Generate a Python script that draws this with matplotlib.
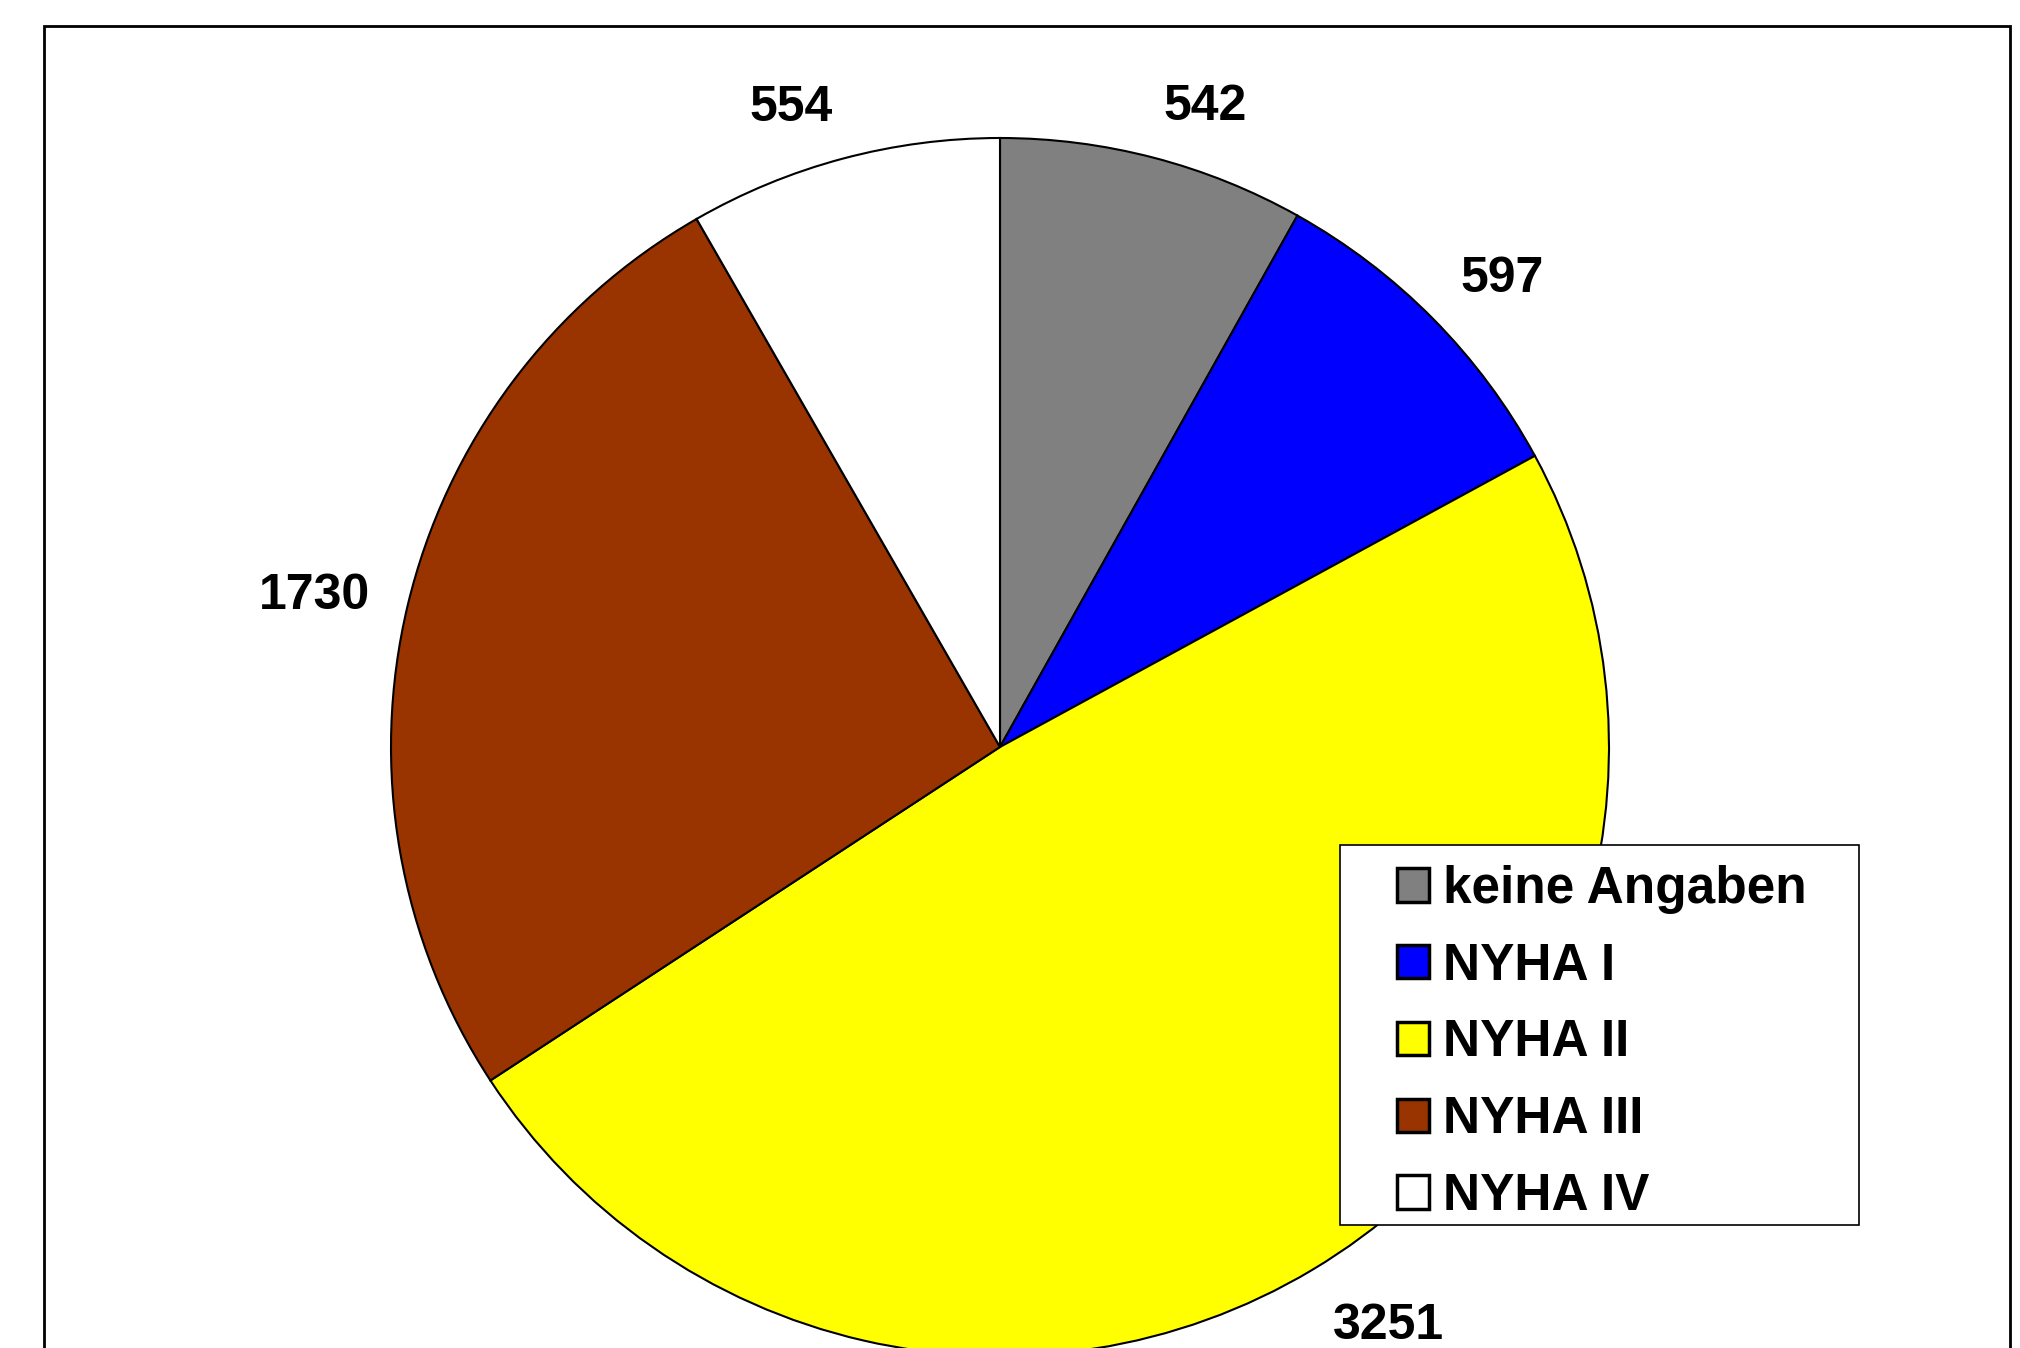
import numpy as np
import matplotlib.pyplot as plt
from matplotlib.patches import Rectangle

# data
categories = ['keine Angaben', 'NYHA I', 'NYHA II', 'NYHA III', 'NYHA IV']
counts = [542, 597, 3251, 1730, 554]
colors = ['#808080', '#0000FF', '#FFFF00', '#993300', '#FFFFFF']

plt.rcParams['font.family'] = ['Liberation Sans', 'DejaVu Sans']
plt.rcParams['font.weight'] = 'bold'

W, H = 2020, 1348
fig = plt.figure(figsize=(W / 100, H / 100), dpi=100)
ax = fig.add_axes([0, 0, 1, 1])

wedges, texts = ax.pie(counts, colors=colors, labels=[str(c) for c in counts],
                       startangle=90, counterclock=False,
                       center=(1000, H - 747), radius=609,
                       labeldistance=1.064,
                       wedgeprops=dict(edgecolor='black', linewidth=1.5),
                       textprops=dict(fontsize=36, fontweight='bold'))

# excel-like label anchoring: box corner sits next to the slice
for w, t in zip(wedges, texts):
    a = np.deg2rad((w.theta1 + w.theta2) / 2)
    c, s = np.cos(a), np.sin(a)
    t.set_ha('left' if c > 0 else 'right')
    if s > 0.5:
        t.set_va('baseline')
    elif s < -0.5:
        t.set_va('top')
    else:
        t.set_va('center')

ax.set_xlim(0, W)
ax.set_ylim(0, H)
ax.set_aspect('equal')
ax.axis('off')

# outer chart frame (runs off the bottom)
ax.add_patch(Rectangle((44, -50), 2010 - 44, H - 26 + 50, fill=False,
                       edgecolor='black', linewidth=2))

# legend box
ax.add_patch(Rectangle((1340, H - 1225), 1859 - 1340, 1225 - 845,
                       facecolor='white', edgecolor='black', linewidth=1.2,
                       zorder=4))

leg = ax.legend(wedges, categories, loc='upper left',
                bbox_to_anchor=(1397 / W, 1 - 865 / H),
                bbox_transform=fig.transFigure, frameon=False,
                borderaxespad=0, borderpad=0, fontsize=37,
                handlelength=0.62, handleheight=0.62, handletextpad=0.27,
                labelspacing=0.54)
leg.set_zorder(5)
for h in leg.legend_handles:
    h.set_linewidth(2.5)

fig.savefig('out.png', dpi=100)
